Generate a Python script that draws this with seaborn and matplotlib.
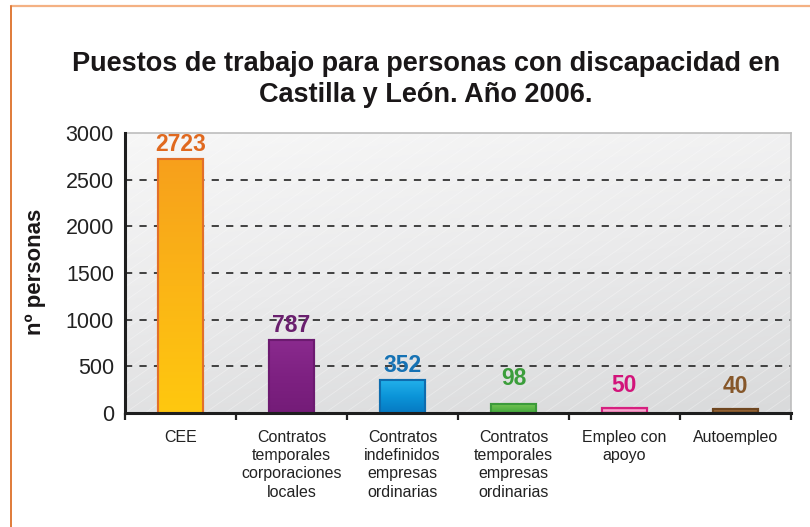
import numpy as np
import matplotlib
matplotlib.use("Agg")
import matplotlib.pyplot as plt
from matplotlib.colors import LinearSegmentedColormap
from matplotlib.lines import Line2D
import seaborn as sns

categories = [
    "CEE",
    "Contratos\ntemporales\ncorporaciones\nlocales",
    "Contratos\nindefinidos\nempresas\nordinarias",
    "Contratos\ntemporales\nempresas\nordinarias",
    "Empleo con\napoyo",
    "Autoempleo",
]
values = [2723, 787, 352, 98, 50, 40]
y_ticks = [0, 500, 1000, 1500, 2000, 2500, 3000]

title = "Puestos de trabajo para personas con discapacidad en\nCastilla y León. Año 2006."
y_label = "nº personas"

# bar look: gradient stops (top -> bottom), edge colour, label colour
bar_stops = [
    ["#F7A01C", "#FBB516", "#FFC80F"],
    ["#8A2A8E", "#7E2182", "#741C78"],
    ["#22B0EA", "#0B94D8", "#0679C2"],
    ["#78C653", "#5CB747", "#42A63C"],
    ["#EE5FA6", "#F7B2D4", "#EC4A9A"],
    ["#A57444", "#8E5E30", "#7D5027"],
]
edge_colors = ["#E2702A", "#6C1A70", "#0E6CAE", "#3C9A3A", "#D6207F", "#6E4620"]
label_colors = ["#E0691F", "#6A1F6E", "#1672B4", "#3B9E3B", "#D2147A", "#86572A"]
label_pad = [3, 3, 3, 14, 11, 11]

sns.set_style("white")
plt.rcParams["font.family"] = ["Liberation Sans", "DejaVu Sans"]

fig = plt.figure(figsize=(8.1, 5.27), dpi=100)
ax = fig.add_axes([125 / 810, 1 - 413 / 527, 666 / 810, 280 / 527])

# plot background gradient with faint diagonal stripes
bg = LinearSegmentedColormap.from_list("bg", ["#D9DADB", "#EAEAEB", "#F7F7F7"])
yy, xx = np.mgrid[0:1:200j, 0:1:200j]
ax.imshow(0.85 * yy - 0.25 * xx, cmap=bg, extent=[0, 1, 0, 1], origin="lower",
          transform=ax.transAxes, aspect="auto", zorder=0)
for s in np.arange(-1.2, 1.0, 0.03):
    ax.plot([s, s + 0.6], [0, 1], transform=ax.transAxes, color="white",
            lw=0.6, alpha=0.35, zorder=0.5)

sns.barplot(x=categories, y=values, hue=categories, palette=[s[0] for s in bar_stops],
            legend=False, width=0.4, ax=ax, zorder=2, saturation=1)

ax.set_xlim(-0.5, 5.5)
ax.set_ylim(0, 3000)

for i, p in enumerate(ax.patches):
    x0, y0 = p.get_x(), p.get_y()
    w, h = p.get_width(), p.get_height()
    p.set_edgecolor(edge_colors[i])
    p.set_linewidth(1.5)
    cmap = LinearSegmentedColormap.from_list(f"b{i}", bar_stops[i][::-1])
    grad = np.linspace(0, 1, 100).reshape(-1, 1)
    im = ax.imshow(grad, cmap=cmap, extent=[x0, x0 + w, y0, y0 + h], origin="lower",
                   aspect="auto", zorder=2.1)
    im.set_clip_path(p)
    ax.add_patch(plt.Rectangle((x0, y0), w, h, fill=False, edgecolor=edge_colors[i],
                               lw=1.5, zorder=2.2))
    ax.annotate(f"{values[i]}", (x0 + w / 2, y0 + h), xytext=(0, label_pad[i] * 0.72),
                textcoords="offset points", ha="center", va="bottom",
                fontsize=16.5, fontweight="bold", color=label_colors[i])

ax.set_xlim(-0.5, 5.5)
ax.set_ylim(0, 3000)

for t in y_ticks[1:-1]:
    ax.axhline(t, color="#333333", lw=1.3, ls=(0, (4, 4)), zorder=1)

ax.set_yticks(y_ticks)
ax.tick_params(axis="y", direction="inout", length=10, width=1.6, color="#222222",
               labelsize=15.5, pad=3, labelcolor="#222222")
ax.set_xticks(range(len(categories)))
ax.set_xticklabels(categories, fontsize=11.5, color="#222222", linespacing=1.28, va="top")
ax.tick_params(axis="x", which="major", length=0, pad=12)
ax.set_xticks(np.arange(-0.5, 6, 1), minor=True)
ax.tick_params(axis="x", which="minor", direction="out", length=5, width=1.6,
               color="#222222", bottom=True)
ax.set_xlabel("")
ax.set_ylabel("")

for side in ["left", "bottom"]:
    ax.spines[side].set_color("#1E1E1E")
    ax.spines[side].set_linewidth(2.2)
    ax.spines[side].set_zorder(3)
for side in ["top", "right"]:
    ax.spines[side].set_color("#BDBDBD")
    ax.spines[side].set_linewidth(1.2)

fig.text(426 / 810, 1 - 79.5 / 527, title, ha="center", va="center", fontsize=19.5,
         fontweight="bold", color="#1A1718", linespacing=1.25)
fig.text(36 / 810, 1 - 272 / 527, y_label, rotation=90, ha="center", va="center",
         fontsize=16, fontweight="bold", color="#1A1718")

# orange page frame
fig.add_artist(Line2D([11 / 810, 1], [1 - 6 / 527] * 2, transform=fig.transFigure,
                      color="#F4B183", lw=1.6))
fig.add_artist(Line2D([11 / 810] * 2, [0, 1 - 6 / 527], transform=fig.transFigure,
                      color="#E07B39", lw=1.4))

fig.savefig("out.png", dpi=100, facecolor="white")
